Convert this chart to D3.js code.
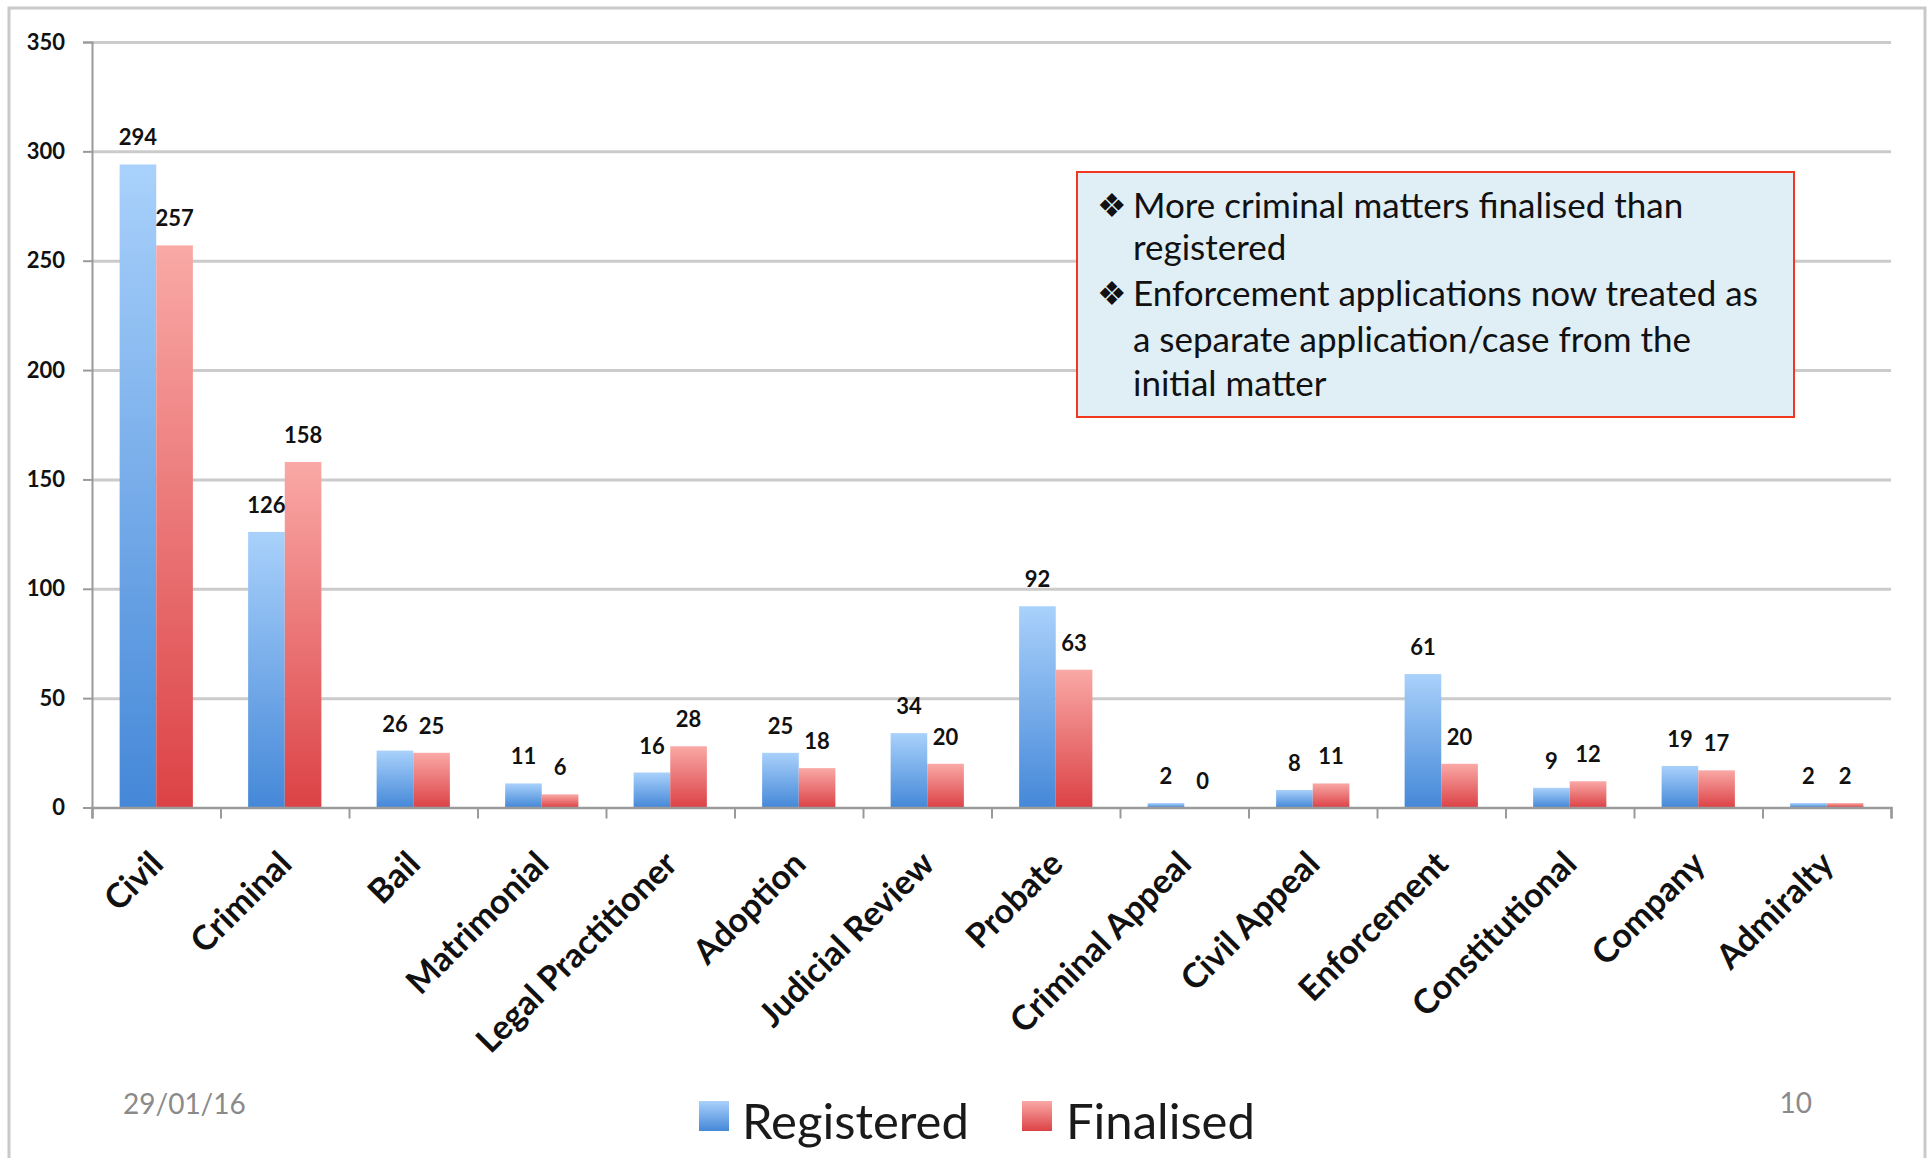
<!DOCTYPE html>
<html>
<head>
<meta charset="utf-8">
<script src="https://cdn.jsdelivr.net/npm/d3@7"></script>
<style>
  html, body { margin: 0; padding: 0; background: #fff; }
  svg { display: block; }
  text { font-family: Lato, "Open Sans", sans-serif; }
</style>
</head>
<body>
<svg id="chart" width="1930" height="1158"></svg>
<script>
// Chart data
const categories = ["Civil", "Criminal", "Bail", "Matrimonial", "Legal Practitioner", "Adoption",
    "Judicial Review", "Probate", "Criminal Appeal", "Civil Appeal", "Enforcement",
    "Constitutional", "Company", "Admiralty"];
const registered = [294, 126, 26, 11, 16, 25, 34, 92, 2, 8, 61, 9, 19, 2];
const finalised = [257, 158, 25, 6, 28, 18, 20, 63, 0, 11, 20, 12, 17, 2];
const seriesNames = ["Registered", "Finalised"];
const yTicks = [0, 50, 100, 150, 200, 250, 300, 350];
const notes = [
    ["More criminal matters finalised than", "registered"],
    ["Enforcement applications now treated as", "a separate application/case from the", "initial matter"]
];
const footerDate = "29/01/16";
const footerPage = "10";

const svg = d3.select("#chart");
const W = 1930, H = 1158;

svg.append("rect").attr("width", W).attr("height", H).attr("fill", "#fff");

// slide frame (bottom edge falls outside the picture)
svg.append("rect")
    .attr("x", 9).attr("y", 8)
    .attr("width", 1916).attr("height", H + 20)
    .attr("fill", "none")
    .attr("stroke", "#c9c9c9")
    .attr("stroke-width", 3);

const plotLeft = 92, plotRight = 1891, plotTop = 42, plotBottom = 807.5;

const x = d3.scaleBand()
    .domain(categories)
    .range([plotLeft, plotRight])
    .paddingInner(0.43)
    .paddingOuter(0.215);

const xSub = d3.scaleBand()
    .domain(seriesNames)
    .range([0, x.bandwidth()]);

const y = d3.scaleLinear()
    .domain([0, 350])
    .range([plotBottom, plotTop]);

const colors = {
    Registered: ["#a9d1fb", "#4588d8"],
    Finalised: ["#f9a9a6", "#dc4246"]
};

// gradients, one per series, stretched over each bar
const defs = svg.append("defs");
seriesNames.forEach((s, i) => {
    const g = defs.append("linearGradient")
        .attr("id", "grad" + i)
        .attr("x1", 0).attr("y1", 0).attr("x2", 0).attr("y2", 1);
    g.append("stop").attr("offset", "0%").attr("stop-color", colors[s][0]);
    g.append("stop").attr("offset", "100%").attr("stop-color", colors[s][1]);
});

// gridlines
svg.append("g")
    .attr("transform", `translate(${plotLeft},0)`)
    .call(d3.axisLeft(y).tickValues(yTicks.slice(1)).tickSize(-(plotRight - plotLeft)).tickFormat(""))
    .call(g => g.select(".domain").remove())
    .call(g => g.selectAll("line").attr("stroke", "#cbcbcb").attr("stroke-width", 3));

// y axis
svg.append("g")
    .attr("transform", `translate(${plotLeft},0)`)
    .call(d3.axisLeft(y).tickValues(yTicks).tickSize(9).tickPadding(18))
    .call(g => g.select(".domain").attr("stroke", "#9a9a9a").attr("stroke-width", 2))
    .call(g => g.selectAll("line").attr("stroke", "#9a9a9a").attr("stroke-width", 2))
    .call(g => g.selectAll("text")
        .attr("font-family", "Lato, sans-serif")
        .attr("font-size", 22)
        .attr("font-weight", "bold")
        .attr("fill", "#111"));

// bars
const rows = categories.map((c, i) => ({ cat: c, values: [registered[i], finalised[i]] }));

const groups = svg.append("g").selectAll("g")
    .data(rows)
    .join("g")
    .attr("transform", d => `translate(${x(d.cat)},0)`);

groups.selectAll("rect")
    .data(d => d.values.map((v, i) => ({ s: seriesNames[i], i, v })))
    .join("rect")
    .attr("x", d => xSub(d.s))
    .attr("y", d => y(d.v))
    .attr("width", xSub.bandwidth())
    .attr("height", d => y(0) - y(d.v))
    .attr("fill", d => `url(#grad${d.i})`);

groups.selectAll("text")
    .data(d => d.values.map((v, i) => ({ s: seriesNames[i], v })))
    .join("text")
    .attr("x", d => xSub(d.s) + xSub.bandwidth() / 2)
    .attr("y", d => y(d.v) - 19)
    .attr("text-anchor", "middle")
    .attr("font-size", 22)
    .attr("font-weight", "bold")
    .attr("fill", "#111")
    .text(d => d.v);

// x axis line with ticks at category boundaries
const xEdge = d3.scaleLinear().domain([0, categories.length]).range([plotLeft, plotRight]);
svg.append("g")
    .attr("transform", `translate(0,${plotBottom})`)
    .call(d3.axisBottom(xEdge).tickValues(d3.range(categories.length + 1)).tickSize(11).tickFormat(""))
    .call(g => g.select(".domain").attr("stroke", "#9a9a9a").attr("stroke-width", 2.5))
    .call(g => g.selectAll("line").attr("stroke", "#9a9a9a").attr("stroke-width", 2));

// rotated category labels
svg.append("g").selectAll("text")
    .data(categories)
    .join("text")
    .attr("transform", d => `translate(${x(d) + x.bandwidth() / 2 + 9},866) rotate(-45)`)
    .attr("text-anchor", "end")
    .attr("font-size", 34)
    .attr("font-weight", "bold")
    .attr("fill", "#111")
    .text(d => d);

// annotation box
svg.append("rect")
    .attr("x", 1077).attr("y", 172)
    .attr("width", 717).attr("height", 245)
    .attr("fill", "#e0eef6")
    .attr("stroke", "#f2371f")
    .attr("stroke-width", 2);

const lineBase = [[218, 260], [306, 352, 396]];
notes.forEach((lines, p) => {
    svg.append("text")
        .attr("x", 1097).attr("y", lineBase[p][0] - 1)
        .attr("font-family", "DejaVu Sans, sans-serif")
        .attr("font-size", 33)
        .attr("fill", "#111")
        .text("\u2756");
    lines.forEach((t, k) => {
        svg.append("text")
            .attr("x", 1133).attr("y", lineBase[p][k])
            .attr("font-size", 35)
            .attr("fill", "#111")
            .text(t);
    });
});

// legend
const legend = svg.append("g");
const legendPos = [{ sx: 699, tx: 742 }, { sx: 1022, tx: 1066 }];
seriesNames.forEach((s, i) => {
    legend.append("rect")
        .attr("x", legendPos[i].sx).attr("y", 1101)
        .attr("width", 30).attr("height", 30)
        .attr("fill", `url(#grad${i})`);
    legend.append("text")
        .attr("x", legendPos[i].tx).attr("y", 1139)
        .attr("font-size", 49)
        .attr("fill", "#1a1a1a")
        .text(s);
});

// slide footer
svg.append("text")
    .attr("x", 123).attr("y", 1114)
    .attr("font-size", 28)
    .attr("fill", "#8a8a8a")
    .text(footerDate);
svg.append("text")
    .attr("x", 1812).attr("y", 1113)
    .attr("text-anchor", "end")
    .attr("font-size", 28)
    .attr("fill", "#8a8a8a")
    .text(footerPage);
</script>
</body>
</html>
